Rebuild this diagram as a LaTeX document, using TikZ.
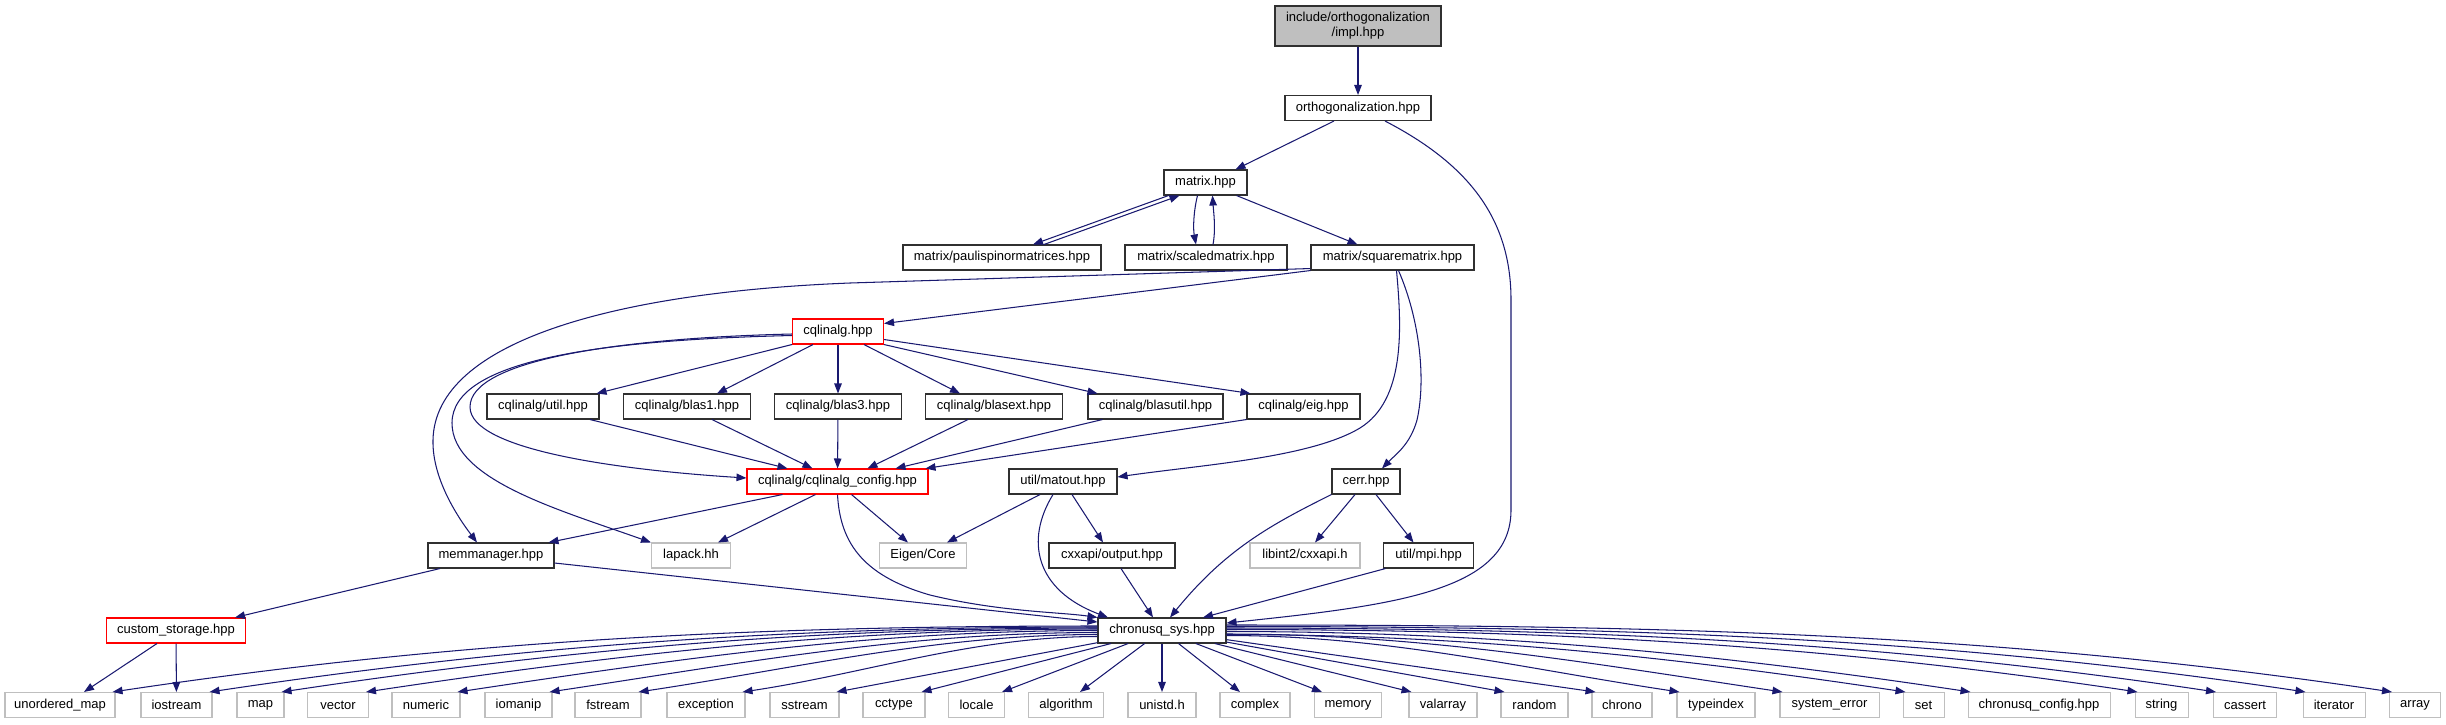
\documentclass[tikz,border=0pt]{standalone}
\usepackage{fontspec}
\setmainfont{Liberation Sans}
\usetikzlibrary{arrows.meta}
\definecolor{edgecol}{HTML}{191970}
\definecolor{extgray}{HTML}{BFBFBF}
\definecolor{docborder}{HTML}{303030}
\tikzset{
  box/.style={draw=docborder, line width=1.05pt, fill=white, minimum height=25pt, inner sep=0pt,
              font=\fontsize{13}{15}\selectfont, anchor=center},
  docbox/.style={box},
  extbox/.style={box, draw=extgray},
  redbox/.style={box, draw=red},
  edge/.style={draw=edgecol, line width=1.05pt, -{Triangle[length=10pt,width=7.5pt]}},
}
\begin{document}
\begin{tikzpicture}[x=1pt,y=-1pt]
\useasboundingbox (0,0) rectangle (2446,724);
% ---- nodes
\node[docbox, fill=extgray, minimum width=166pt, minimum height=40pt, align=center] (impl) at (1358,26) {include/orthogonalization\\/impl.hpp};
\node[docbox, minimum width=146pt] (ortho) at (1358,108) {orthogonalization.hpp};
\node[docbox, minimum width=83pt] (matrix) at (1205.5,182.5) {matrix.hpp};
\node[docbox, minimum width=198pt] (pauli) at (1002,257.5) {matrix/paulispinormatrices.hpp};
\node[docbox, minimum width=162pt] (scaled) at (1206,257.5) {matrix/scaledmatrix.hpp};
\node[docbox, minimum width=163pt] (square) at (1392.5,257.5) {matrix/squarematrix.hpp};
\node[redbox, minimum width=91pt] (cqlinalg) at (838,331.5) {cqlinalg.hpp};
\node[docbox, minimum width=112pt] (util) at (543,406.5) {cqlinalg/util.hpp};
\node[docbox, minimum width=127pt] (blas1) at (687,406.5) {cqlinalg/blas1.hpp};
\node[docbox, minimum width=127pt] (blas3) at (838,406.5) {cqlinalg/blas3.hpp};
\node[docbox, minimum width=137pt] (blasext) at (994,406.5) {cqlinalg/blasext.hpp};
\node[docbox, minimum width=135pt] (blasutil) at (1155.5,406.5) {cqlinalg/blasutil.hpp};
\node[docbox, minimum width=113pt] (eig) at (1303.5,406.5) {cqlinalg/eig.hpp};
\node[redbox, minimum width=181pt] (config) at (837.5,481.5) {cqlinalg/cqlinalg\_config.hpp};
\node[docbox, minimum width=108pt] (matout) at (1063,481.5) {util/matout.hpp};
\node[docbox, minimum width=68pt] (cerr) at (1366,481.5) {cerr.hpp};
\node[docbox, minimum width=126pt] (mem) at (491,555.5) {memmanager.hpp};
\node[extbox, minimum width=79pt] (lapack) at (691,555.5) {lapack.hh};
\node[extbox, minimum width=87pt] (eigen) at (923,555.5) {Eigen/Core};
\node[docbox, minimum width=126pt] (cxxapi) at (1112,555.5) {cxxapi/output.hpp};
\node[extbox, minimum width=110pt] (libint) at (1305,555.5) {libint2/cxxapi.h};
\node[docbox, minimum width=90pt] (mpi) at (1428.5,555.5) {util/mpi.hpp};
\node[redbox, minimum width=139pt] (custom) at (176,630.5) {custom\_storage.hpp};
\node[docbox, minimum width=128pt] (cs) at (1162,630.5) {chronusq\_sys.hpp};
% bottom row
\node[extbox, minimum width=110pt] (um) at (60,705) {unordered\_map};
\node[extbox, minimum width=71pt] (ios) at (176.5,705) {iostream};
\node[extbox, minimum width=47pt] (nmap) at (260.5,705) {map};
\node[extbox, minimum width=61pt] (vec) at (338,705) {vector};
\node[extbox, minimum width=68pt] (num) at (426,705) {numeric};
\node[extbox, minimum width=67pt] (ioman) at (518.5,705) {iomanip};
\node[extbox, minimum width=66pt] (fstr) at (608,705) {fstream};
\node[extbox, minimum width=78pt] (exc) at (706,705) {exception};
\node[extbox, minimum width=69pt] (sstr) at (804.5,705) {sstream};
\node[extbox, minimum width=62pt] (cctype) at (894,705) {cctype};
\node[extbox, minimum width=56pt] (locale) at (976.5,705) {locale};
\node[extbox, minimum width=75pt] (algo) at (1066,705) {algorithm};
\node[extbox, minimum width=68pt] (unistd) at (1162,705) {unistd.h};
\node[extbox, minimum width=70pt] (complex) at (1255,705) {complex};
\node[extbox, minimum width=67pt] (memory) at (1348,705) {memory};
\node[extbox, minimum width=68pt] (valarray) at (1443,705) {valarray};
\node[extbox, minimum width=67pt] (random) at (1534.5,705) {random};
\node[extbox, minimum width=60pt] (chrono) at (1622,705) {chrono};
\node[extbox, minimum width=78pt] (typeidx) at (1716,705) {typeindex};
\node[extbox, minimum width=99pt] (syserr) at (1829.5,705) {system\_error};
\node[extbox, minimum width=41pt] (nset) at (1923.5,705) {set};
\node[extbox, minimum width=142pt] (csconf) at (2039,705) {chronusq\_config.hpp};
\node[extbox, minimum width=53pt] (nstring) at (2161.5,705) {string};
\node[extbox, minimum width=63pt] (cassert) at (2245,705) {cassert};
\node[extbox, minimum width=62pt] (iter) at (2334,705) {iterator};
\node[extbox, minimum width=51pt] (narray) at (2415,705) {array};
% ---- edges
\draw[edge] (impl) -- (ortho);
\draw[edge] ([xshift=-24pt]ortho.south) -- ([xshift=30pt]matrix.north);
\draw[edge] ([xshift=27pt]ortho.south) .. controls (1470,165) and (1511,220) .. (1511,300) -- (1511,510) .. controls (1511,590) and (1400,605) .. ([yshift=7.5pt]cs.east);
\draw[edge] ([xshift=-37pt]matrix.south) -- ([xshift=31pt]pauli.north);
\draw[edge] ([xshift=42pt]pauli.north) -- ([xshift=-26pt]matrix.south);
\draw[edge] ([xshift=-8pt]matrix.south) .. controls +(-4,16) and +(-3,-16) .. ([xshift=-10pt]scaled.north);
\draw[edge] ([xshift=7pt]scaled.north) .. controls +(3,-16) and +(1,16) .. ([xshift=7pt]matrix.south);
\draw[edge] ([xshift=31pt]matrix.south) -- ([xshift=-35pt]square.north);
\draw[edge] (square.south west) -- ([yshift=8pt]cqlinalg.east);
\draw[edge] ([yshift=2pt]square.south west) -- (850,283) .. controls (620,292) and (435,340) .. (433,440) .. controls (432,480) and (460,520) .. ([xshift=-14pt]mem.north);
\draw[edge] ([xshift=4pt]square.south) .. controls (1402,330) and (1405,400) .. (1360,428) .. controls (1310,458) and (1200,465) .. ([yshift=4.5pt]matout.east);
\draw[edge] ([xshift=6pt]square.south) .. controls (1420,320) and (1426,380) .. (1417,420) .. controls (1410,445) and (1395,455) .. ([xshift=16pt]cerr.north);
% cqlinalg
\draw[edge] (cqlinalg.south west) -- ([xshift=-3pt]util.north east);
\draw[edge] ([xshift=-25pt]cqlinalg.south) -- ([xshift=30pt]blas1.north);
\draw[edge] (cqlinalg) -- (blas3);
\draw[edge] ([xshift=26pt]cqlinalg.south) -- ([xshift=-34pt]blasext.north);
\draw[edge] (cqlinalg.south east) -- ([xshift=-58pt]blasutil.north);
\draw[edge] ([yshift=-8pt]cqlinalg.east) -- ([xshift=4pt]eig.north west);
\draw[edge] ([yshift=-2.5pt]cqlinalg.west) .. controls (620,338) and (470,360) .. (470,407) .. controls (470,450) and (620,470) .. ([yshift=3.5pt]config.west);
\draw[edge] ([yshift=-4pt]cqlinalg.west) .. controls (600,340) and (452,360) .. (452,423) .. controls (452,480) and (560,510) .. (lapack.north west);
% row -> config
\draw[edge] ([xshift=47pt]util.south) -- ([xshift=-50pt]config.north);
\draw[edge] ([xshift=25pt]blas1.south) -- ([xshift=-25pt]config.north);
\draw[edge] (blas3) -- (config);
\draw[edge] ([xshift=-26pt]blasext.south) -- ([xshift=30pt]config.north);
\draw[edge] ([xshift=-53pt]blasutil.south) -- ([xshift=58pt]config.north);
\draw[edge] (eig.south west) -- ([xshift=-3pt]config.north east);
% config ->
\draw[edge] ([xshift=-55pt]config.south) -- ([xshift=-6pt]mem.north east);
\draw[edge] ([xshift=-22pt]config.south) -- ([xshift=27pt]lapack.north);
\draw[edge] ([xshift=14pt]config.south) -- ([xshift=-15pt]eigen.north);
\draw[edge] (config.south) .. controls (840,540) and (860,575) .. (930,595) .. controls (1000,612) and (1060,612) .. (cs.north west);
% matout ->
\draw[edge] ([xshift=-23pt]matout.south) -- ([xshift=24pt]eigen.north);
\draw[edge] ([xshift=9pt]matout.south) -- ([xshift=-9pt]cxxapi.north);
\draw[edge] ([xshift=-10pt]matout.south) .. controls (1025,540) and (1035,590) .. ([xshift=-54pt]cs.north);
\draw[edge] ([xshift=9pt]cxxapi.south) -- ([xshift=-9pt]cs.north);
% cerr ->
\draw[edge] ([xshift=-11pt]cerr.south) -- ([xshift=10pt]libint.north);
\draw[edge] ([xshift=10pt]cerr.south) -- ([xshift=-15pt]mpi.north);
\draw[edge] (cerr.south west) .. controls (1270,525) and (1225,550) .. ([xshift=8pt]cs.north);
\draw[edge] ([xshift=-43pt]mpi.south) -- ([xshift=41pt]cs.north);
% memmanager ->
\draw[edge] ([xshift=-51pt]mem.south) -- ([xshift=-11pt]custom.north east);
\draw[edge] ([yshift=-7.5pt]mem.east) -- ([yshift=8.5pt]cs.west);
\draw[edge] ([xshift=-19pt]custom.south) -- ([xshift=24pt]um.north);
\draw[edge] (custom) -- (ios);
% chronusq_sys fan, left
\foreach \n/\s/\c in {um/4.5/345, ios/3.5/310, nmap/2.5/285, vec/1.5/256, num/0/224, ioman/-2/192, fstr/-4/160, exc/-6/124}
  \draw[edge] ([yshift=\s pt]cs.west) .. controls +(-\c,0) and +(\c,-0.15*\c) .. ([xshift=-3pt]\n.north east);
\draw[edge] (cs) -- ([xshift=-3pt]sstr.north east);
\draw[edge] (cs) -- ([xshift=-4pt]cctype.north east);
\draw[edge] (cs) -- ([xshift=-3pt]locale.north east);
\draw[edge] (cs) -- ([xshift=14pt]algo.north);
\draw[edge] (cs) -- (unistd);
\draw[edge] (cs) -- ([xshift=-15pt]complex.north);
\draw[edge] (cs) -- ([xshift=-26pt]memory.north);
\draw[edge] (cs) -- ([xshift=3pt]valarray.north west);
\draw[edge] (cs) -- ([xshift=4pt]random.north west);
\draw[edge] (cs) -- ([xshift=4pt]chrono.north west);
% chronusq_sys fan, right
\foreach \n/\s/\c in {typeidx/-5/159, syserr/-3.5/195, nset/-4/238, csconf/-1/260, nstring/1/319, cassert/2.5/346, iter/4/377, narray/5.5/408}
  \draw[edge] ([yshift=\s pt]cs.east) .. controls +(\c,0) and +(-\c,-0.15*\c) .. ([xshift=3pt]\n.north west);
\end{tikzpicture}
\end{document}
